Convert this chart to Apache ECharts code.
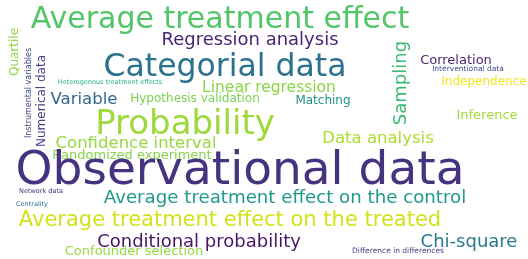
<!DOCTYPE html>
<html>
<head>
<meta charset="utf-8">
<script src="https://cdn.jsdelivr.net/npm/echarts@6/dist/echarts.min.js"></script>
<style>
  html, body { margin: 0; padding: 0; background: #fff; }
  #chart { width: 528px; height: 259px; }
</style>
</head>
<body>
<div id="chart"></div>
<script>
// words of the cloud and their weights (drawn as font size)
var words = [
  'Average treatment effect', 'Regression analysis', 'Categorial data', 'Sampling',
  'Correlation', 'Interventional data', 'Independence', 'Inference', 'Quartile',
  'Instrumental variables', 'Numerical data', 'Heterogenous treatment effects',
  'Variable', 'Hypothesis validation', 'Linear regression', 'Matching', 'Probability',
  'Confidence interval', 'Data analysis', 'Randomized experiment', 'Observational data',
  'Network data', 'Centrality', 'Average treatment effect on the control',
  'Average treatment effect on the treated', 'Conditional probability',
  'Confounder selection', 'Chi-square', 'Difference in differences'
];
var weights = [30, 18, 31.5, 18, 13, 7.5, 12, 13, 12, 8, 12, 6.5, 16.5, 12, 15.5, 12, 34,
  16.5, 16.5, 13, 47, 6.5, 6.5, 18.2, 21, 18, 13, 18, 7.5];

// layout placed by the cloud: centre x, centre y, rotation
var posX = [220, 250, 225, 401, 456, 468, 484, 487, 15, 29, 42, 110, 84, 195, 269, 323, 185,
  136, 378, 132, 240, 41, 32, 285, 230, 199, 134, 469, 398];
var posY = [20, 40, 68, 83, 61, 69, 82, 116, 52, 93, 101, 82, 100, 99, 88, 101, 125,
  144, 139, 156, 172, 191, 204, 198, 221, 242, 252, 242, 251];
var rot = [0, 0, 0, 90, 0, 0, 0, 0, 90, 90, 90, 0, 0, 0, 0, 0, 0,
  0, 0, 0, 0, 0, 0, 0, 0, 0, 0, 0, 0];
var colors = ['#52c569', '#482475', '#2c728e', '#3bbb75', '#481f70', '#3e4c8a', '#f1e51d',
  '#a2da37', '#8ed645', '#3e4989', '#424086', '#27ad81', '#31678e', '#7ad151', '#8bd646',
  '#20928c', '#9dd93b', '#95d840', '#addc30', '#84d44b', '#46337f', '#472c7a', '#2d708e',
  '#1f9a8a', '#d2e21b', '#481467', '#95d840', '#29798e', '#453781'];

var dom = document.getElementById('chart');
var myChart = echarts.init(dom, null, { renderer: 'canvas' });

var items = words.map(function (w, i) {
  return {
    name: w,
    value: [posX[i], posY[i]],
    label: { fontSize: weights[i], color: colors[i], rotate: rot[i] }
  };
});

var option = {
  animation: false,
  backgroundColor: '#fff',
  grid: { left: 0, right: 0, top: 0, bottom: 0 },
  xAxis: { type: 'value', min: 0, max: 528, show: false },
  yAxis: { type: 'value', min: 0, max: 259, inverse: true, show: false },
  series: [{
    type: 'scatter',
    symbolSize: 0,
    itemStyle: { opacity: 1 },
    data: items,
    silent: true,
    label: {
      show: true,
      position: 'inside',
      align: 'center',
      verticalAlign: 'middle',
      opacity: 1,
      fontFamily: 'DejaVu Sans',
      formatter: function (p) { return p.name; }
    }
  }]
};

myChart.setOption(option);
window.addEventListener('resize', myChart.resize);
</script>
</body>
</html>
